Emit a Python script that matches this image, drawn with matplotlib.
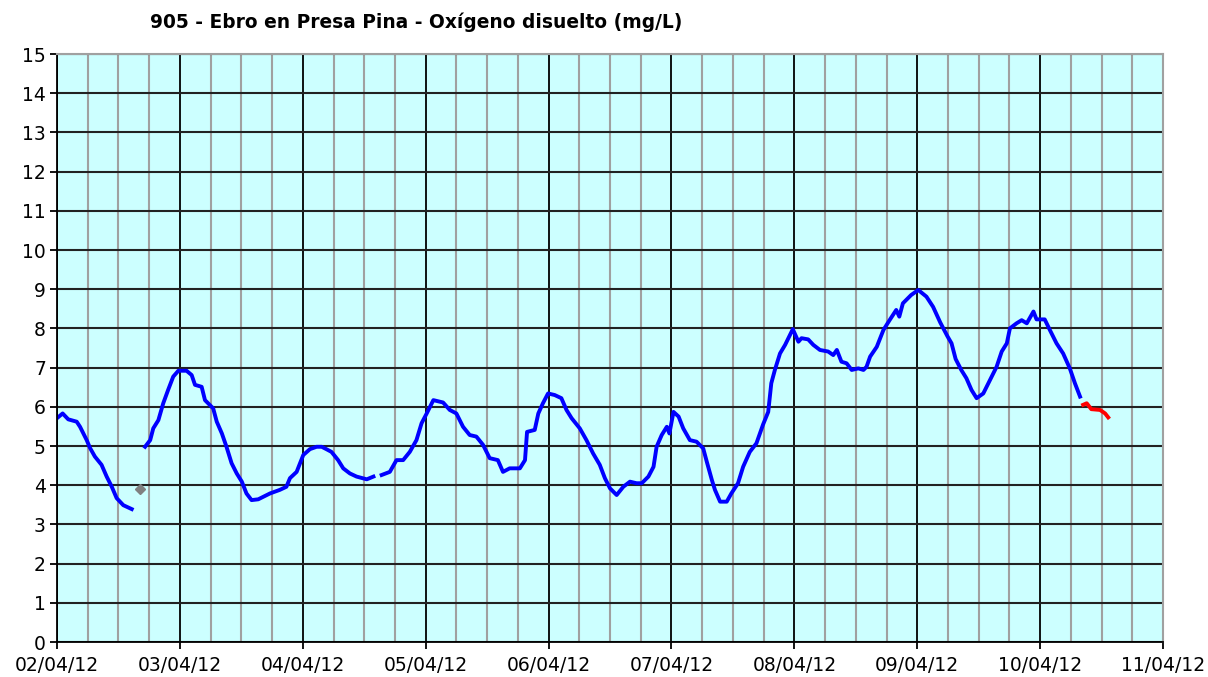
import numpy as np
import pandas as pd
import matplotlib
matplotlib.use("Agg")
import matplotlib.pyplot as plt
import matplotlib.dates as mdates

# hours since 02/04/12 00:00 and dissolved oxygen (mg/L)
start = pd.Timestamp("2012-04-02")

seg1_h = [0.0, 1.1, 2.2, 3.85, 4.5, 5.8, 6.45, 7.4, 8.7, 9.7, 10.7, 11.65, 12.95, 14.6]
seg1_v = [5.71, 5.83, 5.68, 5.62, 5.49, 5.15, 4.95, 4.73, 4.52, 4.22, 3.96, 3.67, 3.49, 3.39]

gray_h = [16.3]
gray_v = [3.90]

seg2_h = [17.2, 18.2, 18.8, 19.8, 20.75, 21.7, 22.7, 23.7, 25.3, 26.3, 26.95, 28.25, 28.9, 30.5,
          31.2, 32.2, 33.1, 34.1, 35.1, 36.1, 37.0, 38.0, 39.3, 41.6, 43.5, 44.8, 45.5, 46.8,
          48.1, 49.4, 50.7, 51.7, 52.6, 53.6, 54.9, 55.9, 57.2, 58.5, 60.5, 61.8, 62.6, 63.4,
          65.0, 66.3, 67.6, 68.9, 70.2, 71.2, 72.2, 73.5, 75.4, 76.7, 78.0, 79.3, 80.6, 81.9,
          83.2, 84.5, 86.1, 87.1, 88.4, 90.4, 91.4, 91.8, 93.3, 94.0, 94.9, 95.9, 97.2, 98.5,
          99.5, 100.5, 102.1, 103.4, 104.7, 106.0, 107.0, 108.0, 109.3, 110.6, 111.9, 113.2,
          114.2, 115.5, 116.5, 117.1, 118.1, 119.1, 119.6, 120.4, 121.4, 122.3, 123.6, 124.9,
          126.2, 126.9, 127.9, 128.5, 129.5, 130.8, 131.7, 133.0, 134.0, 135.3, 136.6, 137.9,
          138.9, 139.5, 140.2, 141.2, 142.2, 143.7, 144.8, 145.4, 146.7, 147.7, 149.0, 150.6,
          151.6, 152.3, 153.2, 154.2, 155.2, 156.5, 157.5, 158.1, 158.8, 160.1, 161.4, 162.6,
          163.9, 164.5, 165.2, 166.8, 168.2, 169.8, 171.1, 172.5, 173.9, 174.7, 175.5, 176.6,
          177.6, 178.6, 179.6, 180.9, 182.2, 183.5, 184.5, 185.5, 186.1, 187.4, 188.4, 189.4,
          190.7, 191.3, 192.9, 193.9, 195.2, 196.5, 197.8, 198.8, 199.8]
seg2_v = [4.98, 5.15, 5.45, 5.66, 6.09, 6.43, 6.77, 6.92, 6.92, 6.81, 6.56, 6.51, 6.17, 5.96,
          5.62, 5.32, 4.98, 4.56, 4.30, 4.09, 3.79, 3.62, 3.64, 3.79, 3.88, 3.96, 4.18, 4.34,
          4.77, 4.92, 4.98, 4.98, 4.92, 4.85, 4.64, 4.43, 4.30, 4.22, 4.15, 4.22, np.nan, 4.26,
          4.34, 4.64, 4.64, 4.85, 5.15, 5.58, 5.83, 6.17, 6.11, 5.92, 5.83, 5.49, 5.28, 5.24,
          5.03, 4.69, 4.64, 4.34, 4.43, 4.43, 4.64, 5.36, 5.41, 5.83, 6.09, 6.34, 6.30, 6.22,
          5.92, 5.71, 5.45, 5.15, 4.81, 4.52, 4.18, 3.92, 3.75, 3.96, 4.09, 4.05,
          4.05, 4.22, 4.47, 4.98, 5.28, 5.49, 5.32, 5.87, 5.75, 5.45, 5.15, 5.11,
          4.94, 4.60, 4.13, 3.88, 3.58, 3.58, 3.79, 4.05, 4.47, 4.85, 5.07, 5.55,
          5.87, 6.60, 6.94, 7.36, 7.58, 7.98, 7.66, 7.75, 7.72, 7.58, 7.45, 7.41,
          7.32, 7.45, 7.15, 7.11, 6.94, 6.98, 6.94, 7.02, 7.28, 7.53, 7.96, 8.21,
          8.47, 8.30, 8.64, 8.85, 8.98, 8.81, 8.55, 8.15, 7.80, 7.62, 7.22, 6.94,
          6.73, 6.43, 6.22, 6.34, 6.68, 7.02, 7.41, 7.62, 8.00, 8.13, 8.21, 8.13,
          8.43, 8.23, 8.23, 7.96, 7.62, 7.36, 6.98, 6.60, 6.26]

red_h = [200.4, 201.1, 202.0, 203.7, 204.7, 205.3]
red_v = [6.05, 6.09, 5.94, 5.92, 5.83, 5.73]


def to_dates(hours):
    return start + pd.to_timedelta(hours, unit="h")


fig = plt.figure(figsize=(12.08, 6.77), dpi=100)
ax = fig.add_axes([57 / 1208, 1 - 642 / 677, (1163 - 57) / 1208, (642 - 54) / 677])
ax.set_facecolor("#ccffff")

ax.set_xlim(start, start + pd.Timedelta(days=9))
ax.set_ylim(0, 15)

# grid: gray every 6 h, black every day, black every 1 mg/L
ax.xaxis.set_major_locator(mdates.DayLocator())
ax.xaxis.set_minor_locator(mdates.HourLocator(byhour=[6, 12, 18]))
ax.xaxis.set_major_formatter(mdates.DateFormatter("%d/%m/%y"))
ax.set_yticks(range(0, 16))
ax.grid(which="minor", axis="x", color="#a0a0a0", lw=1.5)
ax.grid(which="major", axis="x", color="black", lw=1.3)
ax.grid(which="major", axis="y", color="#222222", lw=1.5)
ax.set_axisbelow(True)

ax.plot(to_dates(seg1_h), seg1_v, color="#0000ff", lw=2.8)
ax.plot(to_dates(seg2_h), seg2_v, color="#0000ff", lw=2.8)
ax.plot(to_dates(red_h), red_v, color="#ff0000", lw=2.8)
ax.plot(to_dates(gray_h), gray_v, ls="none", marker="D", ms=5, color="#808080")

for side in ["top", "right"]:
    ax.spines[side].set_color("#a0a0a0")
    ax.spines[side].set_linewidth(1.5)
for side in ["left", "bottom"]:
    ax.spines[side].set_color("black")
    ax.spines[side].set_linewidth(1.3)

ax.tick_params(axis="both", which="major", length=5, width=1.3, color="black",
               labelsize=13.5, pad=3)
ax.tick_params(axis="x", which="minor", length=0)
ax.tick_params(axis="x", which="major", pad=5)

fig.text(150 / 1208, 1 - 22 / 677, "905 - Ebro en Presa Pina - Oxígeno disuelto (mg/L)",
         ha="left", va="center", fontsize=13.4, fontweight="bold")

fig.savefig("out.png", dpi=100)
